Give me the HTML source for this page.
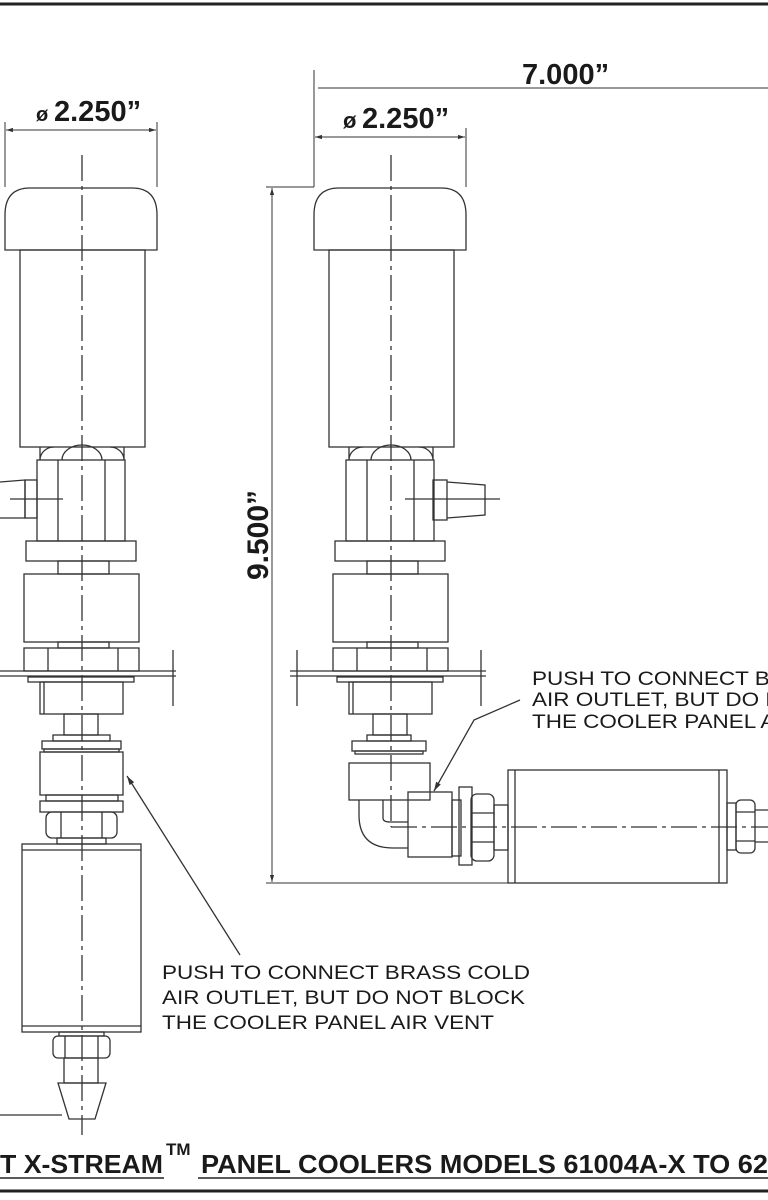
<!DOCTYPE html>
<html><head><meta charset="utf-8"><style>
html,body{margin:0;padding:0;background:#fff;}
svg{display:block;}
text{font-family:"Liberation Sans",Arial,sans-serif;fill:#1a1a1a;}
</style></head><body>
<svg width="768" height="1200" viewBox="0 0 768 1200" xmlns="http://www.w3.org/2000/svg">
<defs>
<marker id="ar" viewBox="0 0 10 10" refX="10" refY="5" markerWidth="7" markerHeight="7" orient="auto-start-reverse"><path d="M0,2 L10,5 L0,8 z" fill="#333"/></marker>
<g id="upper" fill="none" stroke="#333" stroke-width="1.3">
  <path d="M5,250 L5,215 Q5,188 30,188 L132,188 Q157,188 157,215 L157,250 Z"/>
  <rect x="20" y="250" width="125" height="197"/>
  <path d="M40,447 L40,460 M124,447 L124,460 M40,460 A14,13 0 0 1 54,447 M62,460 A20,15 0 0 1 102,460 M110,447 A14,13 0 0 1 124,460"/>
  <rect x="37" y="460" width="88" height="81"/>
  <line x1="58" y1="460" x2="58" y2="541"/><line x1="105" y1="460" x2="105" y2="541"/>
  <rect x="26" y="541" width="110" height="20"/>
  <rect x="58" y="561" width="51" height="13"/>
  <rect x="24" y="574" width="115" height="68"/>
  <rect x="58" y="642" width="51" height="6"/>
  <rect x="24" y="648" width="115" height="23"/>
  <line x1="48" y1="648" x2="48" y2="671"/><line x1="118" y1="648" x2="118" y2="671"/>
  <rect x="28" y="677" width="106" height="5"/>
  <rect x="40" y="682" width="83" height="32"/>
  <line x1="44" y1="682" x2="44" y2="714"/>
  <rect x="64" y="714" width="34" height="21"/>
</g>
</defs>

<line x1="0" y1="4" x2="768" y2="4" stroke="#222" stroke-width="3"/>
<line x1="0" y1="1191" x2="768" y2="1191" stroke="#222" stroke-width="3"/>

<use href="#upper"/>
<g fill="none" stroke="#333" stroke-width="1.3">
  <rect x="25" y="480" width="12" height="38"/>
  <path d="M0,482 L25,480 M0,518 L25,518 L25,480"/>
  <line x1="10" y1="499" x2="63" y2="499"/>
  <line x1="0" y1="671" x2="176" y2="671"/><line x1="0" y1="676" x2="176" y2="676"/>
  <line x1="173" y1="650" x2="173" y2="706"/>
  <rect x="53" y="735" width="57" height="6"/>
  <rect x="42" y="741" width="79" height="8"/>
  <rect x="44" y="749" width="75" height="3"/>
  <rect x="40" y="752" width="83" height="43"/>
  <rect x="46" y="795" width="72" height="6"/>
  <rect x="40" y="801" width="83" height="11"/>
  <rect x="46" y="812" width="71" height="26" rx="6"/>
  <line x1="61" y1="812" x2="61" y2="838"/><line x1="102" y1="812" x2="102" y2="838"/>
  <rect x="57" y="838" width="49" height="6"/>
  <rect x="22" y="844" width="119" height="188"/>
  <line x1="22" y1="850" x2="141" y2="850"/><line x1="22" y1="1026" x2="141" y2="1026"/>
  <rect x="59" y="1032" width="45" height="4"/>
  <rect x="53" y="1036" width="57" height="22" rx="5"/>
  <line x1="65" y1="1036" x2="65" y2="1058"/><line x1="98" y1="1036" x2="98" y2="1058"/>
  <rect x="64" y="1058" width="34" height="25"/>
  <path d="M58,1083 L106,1083 L95,1119 L69,1119 Z"/>
  <line x1="0" y1="1115" x2="62" y2="1115"/>
  <line x1="240" y1="955" x2="127" y2="776" marker-end="url(#ar)"/>
  <line x1="82" y1="155" x2="82" y2="1135" stroke-dasharray="26,5,4,5"/>
</g>

<use href="#upper" transform="translate(309,0)"/>
<g fill="none" stroke="#333" stroke-width="1.3">
  <rect x="433" y="480" width="14" height="40"/>
  <path d="M447,482 L485,485 L485,515 L447,518"/>
  <line x1="405" y1="499" x2="500" y2="499"/>
  <line x1="290" y1="671" x2="486" y2="671"/><line x1="290" y1="676" x2="486" y2="676"/>
  <line x1="297" y1="650" x2="297" y2="706"/><line x1="481" y1="650" x2="481" y2="706"/>
  <rect x="367" y="735" width="44" height="6"/>
  <rect x="352" y="741" width="74" height="10"/>
  <rect x="355" y="751" width="68" height="3"/>
  <rect x="349" y="763" width="81" height="37"/>
  <path d="M359,800 L359,815 Q359,848 393,848 L408,848 M383,800 L383,818 Q383,822 390,822 L408,822"/>
  <rect x="408" y="792" width="44" height="65"/>
  <rect x="452" y="800" width="9" height="56"/>
  <rect x="459" y="787" width="13" height="78"/>
  <rect x="471" y="794" width="23" height="67" rx="6"/>
  <line x1="471" y1="813" x2="494" y2="813"/><line x1="471" y1="842" x2="494" y2="842"/>
  <rect x="494" y="805" width="14" height="45"/>
  <rect x="508" y="770" width="219" height="113"/>
  <line x1="515" y1="770" x2="515" y2="883"/><line x1="719" y1="770" x2="719" y2="883"/>
  <rect x="727" y="803" width="9" height="47"/>
  <rect x="736" y="800" width="19" height="53" rx="5"/>
  <line x1="736" y1="812" x2="755" y2="812"/><line x1="736" y1="841" x2="755" y2="841"/>
  <path d="M755,810 L768,810 M755,842 L768,842"/>
  <polyline points="520,700 474,720 434,791" marker-end="url(#ar)"/>
  <line x1="391" y1="155" x2="391" y2="827" stroke-dasharray="26,5,4,5"/>
  <line x1="391" y1="827" x2="768" y2="827" stroke-dasharray="26,5,4,5"/>
</g>

<g fill="none" stroke="#333" stroke-width="1">
  <line x1="5" y1="122" x2="5" y2="187"/><line x1="157" y1="122" x2="157" y2="187"/>
  <line x1="6" y1="130" x2="156" y2="130" marker-start="url(#ar)" marker-end="url(#ar)"/>
  <line x1="314" y1="70" x2="314" y2="187"/><line x1="466" y1="128" x2="466" y2="187"/>
  <line x1="315" y1="137" x2="465" y2="137" marker-start="url(#ar)" marker-end="url(#ar)"/>
  <line x1="318" y1="88" x2="768" y2="88"/>
  <line x1="266" y1="187" x2="314" y2="187"/>
  <line x1="266" y1="883" x2="508" y2="883"/>
  <line x1="272" y1="188" x2="272" y2="882" marker-start="url(#ar)" marker-end="url(#ar)"/>
</g>
<text x="36" y="121" font-size="20" font-weight="bold">ø</text>
<text x="54" y="121" font-size="29" font-weight="bold">2.250”</text>
<text x="343" y="128" font-size="22" font-weight="bold">ø</text>
<text x="362" y="128" font-size="29" font-weight="bold">2.250”</text>
<text x="522" y="84" font-size="29" font-weight="bold">7.000”</text>
<text transform="translate(268,535) rotate(-90)" text-anchor="middle" font-size="30" font-weight="bold">9.500”</text>

<g font-size="19" fill="#222">
<text x="162" y="979" textLength="368" lengthAdjust="spacingAndGlyphs">PUSH TO CONNECT BRASS COLD</text>
<text x="162" y="1004" textLength="363" lengthAdjust="spacingAndGlyphs">AIR OUTLET, BUT DO NOT BLOCK</text>
<text x="162" y="1029" textLength="332" lengthAdjust="spacingAndGlyphs">THE COOLER PANEL AIR VENT</text>
<text x="532" y="685" textLength="368" lengthAdjust="spacingAndGlyphs">PUSH TO CONNECT BRASS COLD</text>
<text x="532" y="706" textLength="363" lengthAdjust="spacingAndGlyphs">AIR OUTLET, BUT DO NOT BLOCK</text>
<text x="532" y="728" textLength="332" lengthAdjust="spacingAndGlyphs">THE COOLER PANEL AIR VENT</text>
</g>

<text x="0" y="1173" font-size="26" font-weight="bold" textLength="163" lengthAdjust="spacingAndGlyphs">T X-STREAM</text>
<text x="166" y="1155" font-size="17" font-weight="bold">TM</text>
<text x="201" y="1173" font-size="26" font-weight="bold" textLength="567" lengthAdjust="spacingAndGlyphs">PANEL COOLERS MODELS 61004A-X TO 62</text>
<line x1="0" y1="1178" x2="164" y2="1178" stroke="#222" stroke-width="1.5"/>
<line x1="198" y1="1178" x2="768" y2="1178" stroke="#222" stroke-width="1.5"/>
</svg>
</body></html>
